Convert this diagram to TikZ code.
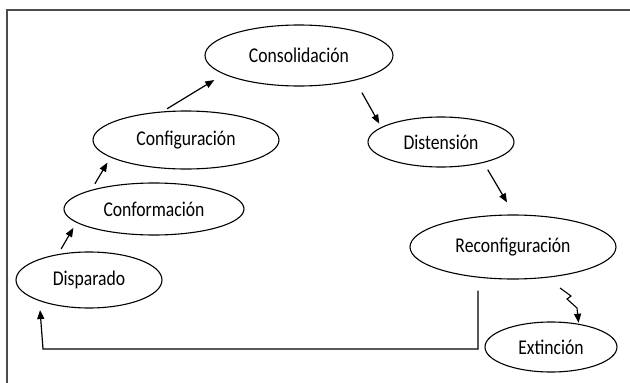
\documentclass[tikz,border=0pt]{standalone}
\usepackage{fontspec}
\setmainfont{Carlito}[FakeStretch=0.84]
\usetikzlibrary{shapes.geometric,arrows.meta,calc}
\begin{document}
\begin{tikzpicture}[x=1pt,y=-1pt,
  stage/.style={draw=black, line width=1.1pt, ellipse, inner sep=0pt, font=\fontsize{21pt}{24pt}\selectfont, text=black},
  arr/.style={draw=black, line width=1.2pt, -{Triangle[length=9pt,width=7pt]}},
  frame/.style={draw=black!70, line width=2pt}]
\useasboundingbox (0,0) rectangle (630,383);
\fill[white] (0,0) rectangle (630,383);
% frame
\coordinate (f1) at (7,383);
\coordinate (f2) at (7,10);
\coordinate (f3) at (630,10);
\draw[frame] (f1) -- (f2) -- (f3);
% nodes
\node[stage, minimum width=188pt, minimum height=61pt] (cons) at (299,55.5) {Consolidación};
\node[stage, minimum width=186pt, minimum height=58pt] (conf) at (186,140) {Configuración};
\node[stage, minimum width=180pt, minimum height=52pt] (form) at (154,209) {Conformación};
\node[stage, minimum width=146pt, minimum height=56pt] (disp) at (89,280) {Disparado};
\node[stage, minimum width=146pt, minimum height=50pt] (dist) at (441,142) {Distensión};
\node[stage, minimum width=206pt, minimum height=64pt] (reco) at (513,247) {Reconfiguración};
\node[stage, minimum width=132pt, minimum height=50pt] (ext) at (551,347) {Extinción};
% connectors
\draw[arr, shorten <=6pt, shorten >=6pt] (disp.140) -- (form.190);
\draw[arr, shorten <=7pt, shorten >=6pt] (form.163) -- (conf.193);
\draw[arr, shorten <=5pt, shorten >=11pt] (conf.129) -- (cons.194);
\draw[arr, shorten <=14pt, shorten >=4pt] (cons.-24) -- (dist.166);
\draw[arr, shorten <=8pt, shorten >=14pt] (dist.-26) -- (reco.88);
\coordinate (corner) at (43,349);
\draw[arr, shorten <=11pt, shorten >=9pt] ([xshift=-35pt]reco.south) |- (corner) -- (disp.203);
\coordinate (z0) at (560,288);
\draw[arr, line width=1.1pt, shorten >=1pt] (z0) -- ++(11,8) -- ++(-4,3) -- ++(10,9) -- (ext.40);
\end{tikzpicture}
\end{document}
